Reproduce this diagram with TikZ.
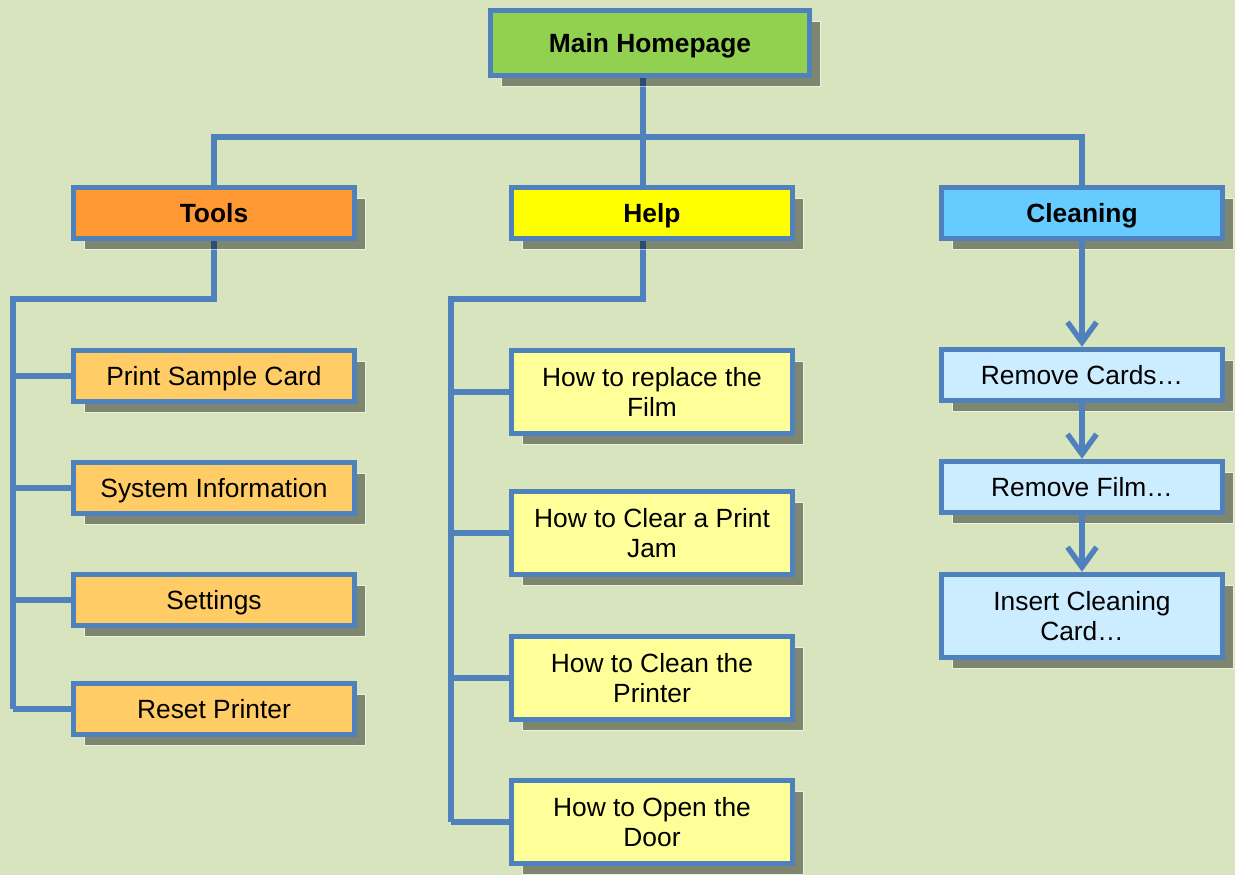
\documentclass[tikz,border=0pt]{standalone}
\usepackage{fontspec}
\setmainfont{Liberation Sans}
\usetikzlibrary{arrows.meta,shadows,backgrounds}
\definecolor{pagebg}{RGB}{215,228,189}
\definecolor{edge}{RGB}{79,129,189}
\definecolor{mainfill}{RGB}{146,208,80}
\definecolor{toolfill}{RGB}{255,153,51}
\definecolor{toolsub}{RGB}{255,204,102}
\definecolor{helpfill}{RGB}{255,255,0}
\definecolor{helpsub}{RGB}{255,255,153}
\definecolor{cleanfill}{RGB}{102,204,255}
\definecolor{cleansub}{RGB}{204,236,255}

\tikzset{
	box/.style={draw=edge, line width=3.1pt, minimum width=5.62cm, minimum height=1.02cm,
		inner sep=0pt, align=center, font=\fontsize{15}{17}\selectfont,
		general shadow={fill=black, fill opacity=0.41, draw=white, draw opacity=0.5,
			line width=0.5pt, shadow xshift=0.22cm, shadow yshift=-0.22cm}},
	one/.style={text height=10.7pt, text depth=0pt},
	head/.style={box, one, font=\fontsize{15}{17}\selectfont\bfseries},
	tall/.style={minimum height=1.66cm},
	link/.style={draw=edge, line width=3.1pt},
	arrow/.style={link, -{Straight Barb[length=0.4cm, width=0.58cm]}}
}

\begin{document}
\begin{tikzpicture}[x=0.02cm, y=-0.02cm]
		\useasboundingbox (0, 0) rectangle (1235, 875);
		\begin{scope}[on background layer]
			\fill[pagebg] (0, 0) rectangle (1235, 875);
		\end{scope}
		% top level
		\node[head, fill=mainfill, minimum width=6.38cm, minimum height=1.3cm] (main) at (650, 43) {Main Homepage};
		\node[head, fill=toolfill] (tools) at (214, 213) {Tools};
		\node[head, fill=helpfill] (help) at (652, 213) {Help};
		\node[head, fill=cleanfill] (clean) at (1082, 213) {Cleaning};
		% children
		\foreach \i/\y/\t in {1/376/Print Sample Card, 2/488/System Information, 3/600/Settings, 4/709/Reset Printer}
			\node[box, one, fill=toolsub] (t\i) at (214, \y) {\t};
		\foreach \i/\y/\t in {1/392/{How to replace the\\Film}, 2/533/{How to Clear a Print\\Jam}, 3/678/{How to Clean the\\Printer}, 4/822/{How to Open the\\Door}}
			\node[box, tall, fill=helpsub] (h\i) at (652, \y) {\t};
		\node[box, one, fill=cleansub] (c1) at (1082, 375) {Remove Cards…};
		\node[box, one, fill=cleansub] (c2) at (1082, 487) {Remove Film…};
		\node[box, tall, fill=cleansub] (c3) at (1082, 616) {Insert Cleaning\\Card…};
		% connectors
		\coordinate (hb) at (643, 137);
		\coordinate (tl) at (13, 299);
		\coordinate (hl) at (451, 299);
		\begin{scope}[on background layer]
			\draw[link] (hb |- main.south) -- (hb |- help.north);
			\draw[link] (tools.north) |- (clean.north |- hb) -- (clean.north);
			\draw[link] (tools.south) |- (tl) -- (tl |- t4.west);
			\foreach \i in {1, 2, 3, 4}
				\draw[link] (tl |- t\i.west) -- (t\i.west);
			\draw[link] (hb |- help.south) |- (hl) -- (hl |- h4.west);
			\foreach \i in {1, 2, 3, 4}
				\draw[link] (hl |- h\i.west) -- (h\i.west);
		\end{scope}
		\draw[arrow] (clean) -- (c1);
		\draw[arrow] (c1) -- (c2);
		\draw[arrow] (c2) -- (c3);
	\end{tikzpicture}
\end{document}
